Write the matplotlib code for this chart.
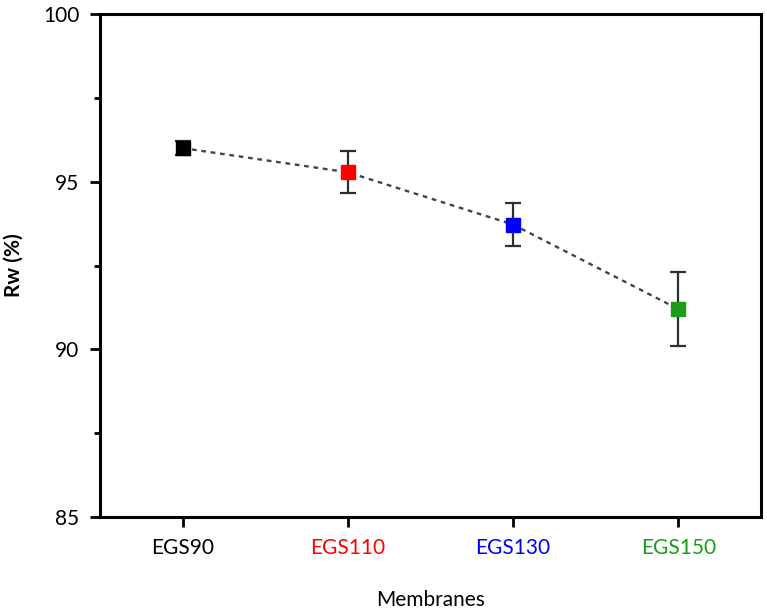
import matplotlib
matplotlib.use("Agg")
import matplotlib.pyplot as plt
from matplotlib.ticker import MultipleLocator

plt.rcParams['font.family'] = ['Lato', 'DejaVu Sans']

membranes = ["EGS90", "EGS110", "EGS130", "EGS150"]
rw = [96.0, 95.28, 93.72, 91.2]
rw_err = [0.2, 0.62, 0.63, 1.1]
colors = ["black", "red", "blue", "#1a9e1a"]

fig = plt.figure(figsize=(7.67, 6.11), dpi=100)
ax = fig.add_axes([100 / 767, 94 / 611, 661 / 767, 503 / 611])

x = range(1, len(membranes) + 1)
ax.plot(x, rw, linestyle=(0, (2, 2)), color="#3c4848", linewidth=1.7, zorder=1)
for xi, yi, ei, c in zip(x, rw, rw_err, colors):
    ax.errorbar(xi, yi, yerr=ei, fmt="s", color=c, markersize=10,
                markeredgecolor=c, ecolor="#2a3030", elinewidth=1.6,
                capsize=6, capthick=1.6, zorder=3)

ax.set_xlim(0.5, 4.5)
ax.set_ylim(85, 100)
ax.set_xticks(list(x))
ax.set_xticklabels(membranes)
for lbl, c in zip(ax.get_xticklabels(), colors):
    lbl.set_color(c)
ax.yaxis.set_major_locator(MultipleLocator(5))
ax.yaxis.set_minor_locator(MultipleLocator(2.5))

ax.tick_params(axis="both", which="major", direction="out", length=7, width=2,
               labelsize=15, pad=8)
ax.tick_params(axis="y", which="minor", direction="out", length=4, width=2)
for s in ax.spines.values():
    s.set_linewidth(2.2)

ax.set_xlabel("Membranes", fontsize=15, labelpad=23)
ax.set_ylabel("Rw (%)", fontsize=15, fontweight="bold", labelpad=14)

fig.savefig("out.png", dpi=100)
